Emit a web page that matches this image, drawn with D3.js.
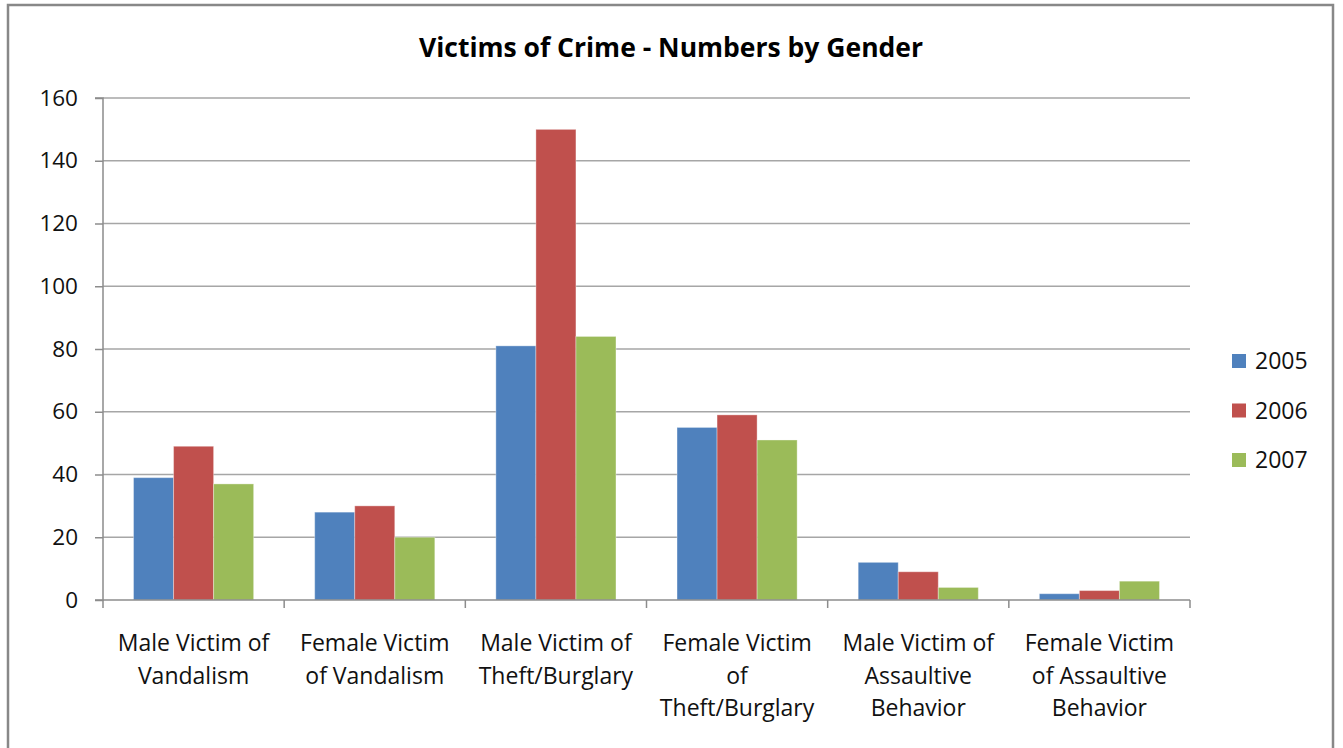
<!DOCTYPE html>
<html><head><meta charset="utf-8">
<script src="https://cdn.jsdelivr.net/npm/d3@7"></script>
<style>body{margin:0;background:#fff;}svg{display:block;font-family:"Open Sans",sans-serif;}</style>
</head><body><svg id="c" width="1343" height="748"></svg>
<script>
const categories = [
  ["Male Victim of","Vandalism"],
  ["Female Victim","of Vandalism"],
  ["Male Victim of","Theft/Burglary"],
  ["Female Victim","of","Theft/Burglary"],
  ["Male Victim of","Assaultive","Behavior"],
  ["Female Victim","of Assaultive","Behavior"]
];
const seriesNames = ["2005","2006","2007"];
const values2005 = [39, 28, 81, 55, 12, 2];
const values2006 = [49, 30, 150, 59, 9, 3];
const values2007 = [37, 20, 84, 51, 4, 6];
const yTicks = [0,20,40,60,80,100,120,140,160];
const colors = ["#4F81BD","#C0504D","#9BBB59"];
const title = "Victims of Crime - Numbers by Gender";

const series = [values2005, values2006, values2007];
const svg = d3.select("#c");
const L=103, R=1190, T=98, B=600;

// frame
svg.append("path").attr("d","M8,748 V5 H1333 V748").attr("fill","none").attr("stroke","#888").attr("stroke-width",2.5);

const x0 = d3.scaleBand().domain(d3.range(categories.length)).range([L,R]).paddingInner(0).paddingOuter(0);
const bw = x0.bandwidth();
const x1 = d3.scaleBand().domain(d3.range(3)).range([bw*0.1685, bw*(1-0.1685)]);
const y = d3.scaleLinear().domain([0,160]).range([B,T]);

// gridlines
svg.append("g").selectAll("line").data(yTicks.filter(d=>d>0)).join("line")
  .attr("x1",L).attr("x2",R).attr("y1",d=>y(d)).attr("y2",d=>y(d))
  .attr("stroke","#a6a6a6").attr("stroke-width",1.5);

// bars
const g = svg.append("g");
series.forEach((vals,si)=>{
  g.append("g").selectAll("rect").data(vals).join("rect")
    .attr("x",(d,i)=>x0(i)+x1(si)).attr("width",x1.bandwidth())
    .attr("y",d=>y(d)).attr("height",d=>y(0)-y(d))
    .attr("fill",colors[si]).attr("stroke","rgba(255,255,255,0.35)").attr("stroke-width",1);
});

// y axis
const ya = svg.append("g").attr("transform",`translate(${L},0)`)
  .call(d3.axisLeft(y).tickValues(yTicks).tickSize(8).tickPadding(17));
ya.select(".domain").attr("stroke","#8c8c8c").attr("stroke-width",1.5).attr("d",`M-8,${T}H0V${B}H-8`);
ya.selectAll(".tick line").attr("stroke","#8c8c8c").attr("stroke-width",1.5);
ya.selectAll(".tick text").attr("font-size",22.5).attr("fill","#111").attr("font-family","Open Sans, sans-serif");

// x axis line + ticks
const xa = svg.append("g");
xa.append("line").attr("x1",L).attr("x2",R).attr("y1",B).attr("y2",B).attr("stroke","#8c8c8c").attr("stroke-width",1.5);
const bounds = d3.range(categories.length+1).map(i=> i<categories.length ? x0(i) : R);
xa.selectAll("line.t").data(bounds).join("line").attr("class","t")
  .attr("x1",d=>d).attr("x2",d=>d).attr("y1",B).attr("y2",B+8)
  .attr("stroke","#8c8c8c").attr("stroke-width",1.5);

// category labels
categories.forEach((lines,i)=>{
  const t = svg.append("text").attr("text-anchor","middle").attr("font-size",23).attr("fill","#111");
  lines.forEach((ln,k)=>{
    t.append("tspan").attr("x",x0(i)+bw/2).attr("y",651+k*32.5).text(ln);
  });
});

// title
svg.append("text").attr("x",671).attr("y",57).attr("text-anchor","middle")
  .attr("font-size",26.5).attr("font-weight","bold").attr("fill","#000").text(title);

// legend
const leg = svg.append("g");
seriesNames.forEach((n,i)=>{
  const cy = 361 + i*49.5;
  leg.append("rect").attr("x",1232).attr("y",cy-7).attr("width",14).attr("height",14).attr("fill",colors[i]);
  leg.append("text").attr("x",1255).attr("y",cy+8).attr("font-size",23).attr("fill","#111").text(n);
});
</script></body></html>
